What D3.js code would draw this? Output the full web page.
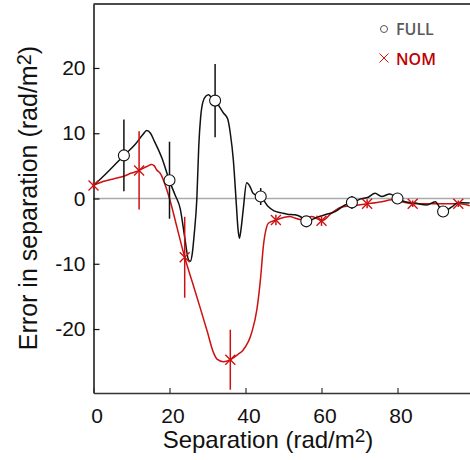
<html>
<head>
<script src="https://cdn.jsdelivr.net/npm/d3@7"></script>
<style>
  body { margin: 0; background: #fff; }
  text { font-family: "Liberation Sans", Arial, sans-serif; }
</style>
</head>
<body>
<script>
// curve samples
var fullX = [0, 1.7, 4, 8, 11, 13, 14, 15, 16, 18, 20, 21.5, 22.8, 24.1, 25, 25.5, 26, 26.5, 27.2, 27.7, 28.2, 28.8, 29.6, 30.3, 31, 32, 33, 34.2, 35.3, 36, 36.8, 37.6, 38, 38.4, 38.8, 39.4, 40.3, 41.2, 42, 43.4, 44, 45.9, 47.5, 49.5, 51, 53, 54.5, 56, 57, 58.3, 60.9, 63.6, 66.2, 68.4, 70.1, 72.3, 74.1, 75.8, 78, 80, 82, 84.6, 87.7, 89.9, 92, 94.3, 96, 99];
var fullY = [2, 2.9, 4.2, 6.6, 8.3, 9.8, 10.4, 10, 8.8, 6.2, 2.7, 0.5, -1.5, -6.3, -9.4, -9.6, -8.4, -5.5, 0, 8, 12.5, 14.8, 15.7, 15.9, 15.5, 15, 14.2, 13.1, 12.2, 10, 5.9, -1, -4.5, -6.1, -4.8, -1.7, 2.4, 1.8, 0.8, 0.4, 0.3, -1.2, -1.9, -2.2, -2.4, -2.5, -2.8, -3.5, -3.4, -3, -2.5, -2, -1, -0.6, -0.1, 0.2, 0.8, 0.3, 0.7, 0, -0.5, -0.7, -1, -0.5, -2, -1.3, -0.6, -0.7];

var nomX = [0, 2.5, 5.2, 8, 10, 12, 14, 15.3, 16, 16.6, 17.5, 20, 22, 24, 26, 28, 30, 31.5, 32.5, 34.2, 36, 38, 39.4, 41.6, 43, 44, 44.7, 45.5, 46, 48, 51.7, 53, 54.3, 57.4, 60.2, 62.7, 65.3, 68.4, 72.3, 75.8, 78.5, 81.1, 84.3, 88.1, 91.6, 96.4, 99];
var nomY = [2, 2.6, 3, 3.4, 3.9, 4.3, 4.9, 5.2, 5, 4.4, 3.9, 0, -4.5, -9, -12.8, -16.6, -20.5, -23.5, -24.6, -25, -24.7, -23.9, -23.2, -20.6, -17, -12, -7.3, -4.5, -3.8, -3.3, -2.75, -3, -3.2, -2.75, -3.4, -2.2, -1.3, -1.1, -0.8, -0.5, -0.2, -0.5, -0.8, -0.8, -0.8, -0.8, -1.1];

// markers with error bars
var fullPtX = [8, 20, 32, 44, 56, 68, 80, 92];
var fullPtY = [6.6, 2.8, 15, 0.3, -3.5, -0.6, 0, -2];
var fullErr = [5.5, 5.9, 5.6, 1.3, 0.6, 1.0, 0.5, 0.5];

var nomPtX = [0, 12, 24, 36, 48, 60, 72, 84, 96];
var nomPtY = [2, 4.3, -9, -24.7, -3.3, -3.4, -0.8, -0.8, -0.8];
var nomErr = [0.5, 6, 6.2, 4.6, 0.8, 0.8, 0.7, 0.5, 0.5];

var xTicks = [0, 20, 40, 60, 80];
var yTicks = [-20, -10, 0, 10, 20];

var W = 470, H = 460;
var pLeft = 93.5, pTop = 4, pBottom = 393;
var black = "#111", red = "#cc1111";

var svg = d3.select("body").append("svg")
    .attr("width", W).attr("height", H);

var x = d3.scaleLinear().domain([0, 100]).range([pLeft, pLeft + 380]);
var y = d3.scaleLinear().domain([-29.8, 29.8]).range([pBottom, pTop]);

// zero line
svg.append("line")
    .attr("x1", pLeft).attr("x2", W)
    .attr("y1", y(0)).attr("y2", y(0))
    .attr("stroke", "#aaa").attr("stroke-width", 1.5);

var line = d3.line()
    .x(function(d) { return x(d[0]); })
    .y(function(d) { return y(d[1]); })
    .curve(d3.curveMonotoneX);

svg.append("path")
    .datum(d3.zip(nomX, nomY))
    .attr("d", line)
    .attr("fill", "none").attr("stroke", red).attr("stroke-width", 1.5);

svg.append("path")
    .datum(d3.zip(fullX, fullY))
    .attr("d", line)
    .attr("fill", "none").attr("stroke", black).attr("stroke-width", 1.5);

// axes
var yAxis = d3.axisLeft(y).tickValues(yTicks).tickSize(-6).tickSizeOuter(0).tickPadding(8);
var gy = svg.append("g")
    .attr("transform", "translate(" + pLeft + ",0)")
    .call(yAxis);
gy.selectAll("text").style("font-size", "21px").attr("fill", "#111")
    .text(function(d) { return d; });
gy.select(".domain").attr("stroke", "#111").attr("stroke-width", 1.5);
gy.selectAll(".tick line").attr("stroke", "#111").attr("stroke-width", 1.2);

var xAxis = d3.axisBottom(x).tickValues(xTicks).tickSize(-5).tickSizeOuter(0).tickPadding(15);
var gx = svg.append("g")
    .attr("transform", "translate(0," + pBottom + ")")
    .call(xAxis);
gx.selectAll("text").style("font-size", "21px").attr("fill", "#111").attr("dx", 3);
gx.select(".domain").attr("stroke", "#333").attr("stroke-width", 1.5);
gx.selectAll(".tick line").attr("stroke", "#333").attr("stroke-width", 1.2);

// top frame
svg.append("line")
    .attr("x1", pLeft).attr("x2", W)
    .attr("y1", pTop).attr("y2", pTop)
    .attr("stroke", "#111").attr("stroke-width", 1.5);

// error bars
var fullPts = d3.zip(fullPtX, fullPtY, fullErr);
var nomPts = d3.zip(nomPtX, nomPtY, nomErr);

svg.selectAll(".nomerr").data(nomPts).enter()
    .append("line")
    .attr("x1", function(d) { return x(d[0]); })
    .attr("x2", function(d) { return x(d[0]); })
    .attr("y1", function(d) { return y(d[1] - d[2]); })
    .attr("y2", function(d) { return y(d[1] + d[2]); })
    .attr("stroke", red).attr("stroke-width", 1.5);

svg.selectAll(".nomx").data(nomPts).enter()
    .append("path")
    .attr("d", function(d) {
        var cx = x(d[0]), cy = y(d[1]), s = 5;
        return "M" + (cx - s) + "," + (cy - s) + "L" + (cx + s) + "," + (cy + s) +
               "M" + (cx - s) + "," + (cy + s) + "L" + (cx + s) + "," + (cy - s);
    })
    .attr("stroke", red).attr("stroke-width", 1.3).attr("fill", "none");

svg.selectAll(".fullerr").data(fullPts).enter()
    .append("line")
    .attr("x1", function(d) { return x(d[0]); })
    .attr("x2", function(d) { return x(d[0]); })
    .attr("y1", function(d) { return y(d[1] - d[2]); })
    .attr("y2", function(d) { return y(d[1] + d[2]); })
    .attr("stroke", black).attr("stroke-width", 1.5);

svg.selectAll(".fullpt").data(fullPts).enter()
    .append("circle")
    .attr("cx", function(d) { return x(d[0]); })
    .attr("cy", function(d) { return y(d[1]); })
    .attr("r", 5.5)
    .attr("fill", "#fff").attr("stroke", black).attr("stroke-width", 1.1);

// axis titles
var xt = svg.append("text")
    .attr("x", 268).attr("y", 448)
    .attr("text-anchor", "middle")
    .style("font-size", "24px").attr("fill", "#111");
xt.append("tspan").text("Separation (rad/m");
xt.append("tspan").text("2").style("font-size", "19px").attr("dy", -6);
xt.append("tspan").text(")").attr("dy", 6);

var yt = svg.append("text")
    .attr("transform", "translate(37,198) rotate(-90)")
    .attr("text-anchor", "middle")
    .style("font-size", "25px").attr("fill", "#111");
yt.append("tspan").text("Error in separation (rad/m");
yt.append("tspan").text("2").style("font-size", "20px").attr("dy", -6);
yt.append("tspan").text(")").attr("dy", 6);

// legend
var lg = svg.append("g");
lg.append("circle").attr("cx", 384).attr("cy", 29).attr("r", 3.5)
    .attr("fill", "#fff").attr("stroke", "#555").attr("stroke-width", 1);
lg.append("text").attr("x", 396).attr("y", 35).text("FULL")
    .style("font-family", "'Open Sans', sans-serif").style("font-weight", 600)
    .style("font-size", "16px").attr("fill", "#595959");
lg.append("path")
    .attr("d", "M379.5,53.5L388.5,62.5M379.5,62.5L388.5,53.5")
    .attr("stroke", red).attr("stroke-width", 1);
lg.append("text").attr("x", 396).attr("y", 65).text("NOM")
    .style("font-family", "'Open Sans', sans-serif").style("font-weight", 600)
    .style("font-size", "16px").attr("fill", "#c00000");
</script>
</body>
</html>
